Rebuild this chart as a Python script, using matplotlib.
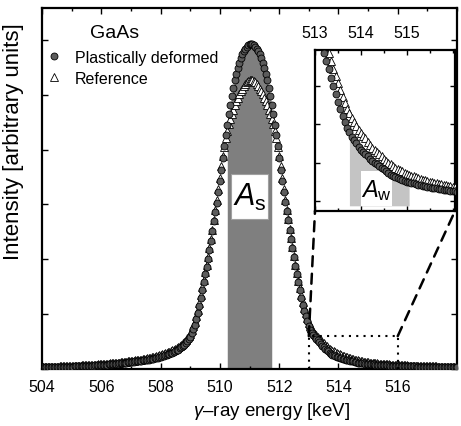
import numpy as np
import matplotlib
matplotlib.use('Agg')
import matplotlib.pyplot as plt
from matplotlib.patches import Rectangle, ConnectionPatch
from matplotlib.ticker import MultipleLocator

plt.rcParams['font.family'] = ['Liberation Sans', 'DejaVu Sans']
plt.rcParams['mathtext.fontset'] = 'custom'
plt.rcParams['mathtext.rm'] = 'Liberation Sans'
plt.rcParams['mathtext.it'] = 'Liberation Sans:italic'

# ---------------- data ----------------
energy = np.round(np.arange(504.0, 518.0001, 0.05), 2)   # keV, channel centres

deformed = [
    0.0050, 0.0050, 0.0050, 0.0050, 0.0051, 0.0051, 0.0052, 0.0052, 0.0053, 0.0053,
    0.0054, 0.0055, 0.0056, 0.0057, 0.0058, 0.0059, 0.0060, 0.0061, 0.0062, 0.0064,
    0.0066, 0.0068, 0.0070, 0.0072, 0.0074, 0.0076, 0.0078, 0.0080, 0.0082, 0.0084,
    0.0086, 0.0088, 0.0090, 0.0092, 0.0094, 0.0096, 0.0098, 0.0100, 0.0102, 0.0104,
    0.0107, 0.0110, 0.0114, 0.0118, 0.0122, 0.0126, 0.0130, 0.0134, 0.0138, 0.0142,
    0.0146, 0.0150, 0.0155, 0.0160, 0.0165, 0.0170, 0.0175, 0.0180, 0.0185, 0.0190,
    0.0195, 0.0200, 0.0205, 0.0210, 0.0215, 0.0220, 0.0226, 0.0232, 0.0238, 0.0244,
    0.0250, 0.0256, 0.0262, 0.0270, 0.0278, 0.0286, 0.0295, 0.0305, 0.0315, 0.0327,
    0.034, 0.035, 0.036, 0.0375, 0.039, 0.0405, 0.042, 0.0435, 0.045, 0.047,
    0.049, 0.0515, 0.054, 0.057, 0.060, 0.0635, 0.067, 0.072, 0.078, 0.084,
    0.090, 0.099, 0.110, 0.123, 0.138, 0.156, 0.175, 0.197, 0.220, 0.241,
    0.262, 0.283, 0.305, 0.330, 0.355, 0.382, 0.410, 0.435, 0.460, 0.490,
    0.520, 0.552, 0.585, 0.617, 0.648, 0.677, 0.705, 0.732, 0.757, 0.779,
    0.800, 0.818, 0.835, 0.849, 0.862, 0.872, 0.880, 0.887, 0.893, 0.897,
    0.899, 0.900, 0.899, 0.897, 0.893, 0.887, 0.880, 0.872, 0.862, 0.849,
    0.835, 0.818, 0.800, 0.779, 0.757, 0.732, 0.705, 0.677, 0.648, 0.617,
    0.585, 0.552, 0.520, 0.490, 0.462, 0.437, 0.412, 0.386, 0.360, 0.335,
    0.310, 0.286, 0.262, 0.240, 0.218, 0.197, 0.178, 0.162, 0.148, 0.134,
    0.120, 0.109, 0.100, 0.094, 0.088, 0.0835, 0.079, 0.074, 0.069, 0.0645,
    0.060, 0.056, 0.052, 0.0485, 0.045, 0.0425, 0.040, 0.038, 0.036, 0.034,
    0.032, 0.031, 0.030, 0.0285, 0.027, 0.026, 0.025, 0.024, 0.023, 0.022,
    0.021, 0.020, 0.019, 0.018, 0.0175, 0.0168, 0.016, 0.0155, 0.015, 0.0145,
    0.0140, 0.0136, 0.0133, 0.0130, 0.0126, 0.0123, 0.0120, 0.0117, 0.0114, 0.0111,
    0.0108, 0.0105, 0.0103, 0.0100, 0.0098, 0.0095, 0.0093, 0.0091, 0.0089, 0.0087,
    0.0085, 0.0083, 0.0082, 0.0080, 0.0079, 0.0077, 0.0076, 0.0075, 0.0074, 0.0073,
    0.0072, 0.0071, 0.0070, 0.0069, 0.0068, 0.0067, 0.0066, 0.0065, 0.0064, 0.0063,
    0.0062, 0.0062, 0.0061, 0.0061, 0.0060, 0.0060, 0.0059, 0.0059, 0.0058, 0.0058,
    0.0057, 0.0057, 0.0056, 0.0056, 0.0055, 0.0055, 0.0054, 0.0054, 0.0053, 0.0053,
    0.0052,
]

reference = [
    0.0058, 0.0059, 0.0060, 0.0061, 0.0062, 0.0063, 0.0064, 0.0065, 0.0066, 0.0067,
    0.0068, 0.0069, 0.0070, 0.0071, 0.0072, 0.0073, 0.0075, 0.0077, 0.0079, 0.0081,
    0.0083, 0.0085, 0.0087, 0.0089, 0.0091, 0.0093, 0.0095, 0.0097, 0.0099, 0.0101,
    0.0103, 0.0106, 0.0109, 0.0112, 0.0115, 0.0118, 0.0121, 0.0124, 0.0127, 0.0130,
    0.0133, 0.0136, 0.0139, 0.0142, 0.0145, 0.0149, 0.0153, 0.0157, 0.0161, 0.0165,
    0.0170, 0.0175, 0.0180, 0.0185, 0.0190, 0.0195, 0.0200, 0.0205, 0.0210, 0.0215,
    0.0220, 0.0225, 0.0230, 0.0236, 0.0242, 0.0248, 0.0255, 0.0262, 0.0270, 0.0278,
    0.0286, 0.0294, 0.0303, 0.0312, 0.0322, 0.0332, 0.0342, 0.0353, 0.0365, 0.0380,
    0.040, 0.041, 0.042, 0.0435, 0.045, 0.0465, 0.048, 0.050, 0.052, 0.054,
    0.056, 0.0585, 0.061, 0.064, 0.067, 0.071, 0.075, 0.080, 0.085, 0.091,
    0.098, 0.107, 0.118, 0.131, 0.146, 0.163, 0.182, 0.204, 0.226, 0.247,
    0.268, 0.289, 0.310, 0.335, 0.360, 0.386, 0.412, 0.440, 0.468, 0.499,
    0.530, 0.561, 0.590, 0.616, 0.640, 0.660, 0.678, 0.692, 0.705, 0.718,
    0.730, 0.741, 0.752, 0.761, 0.770, 0.777, 0.783, 0.789, 0.795, 0.798,
    0.800, 0.801, 0.800, 0.798, 0.795, 0.789, 0.783, 0.777, 0.770, 0.761,
    0.752, 0.741, 0.730, 0.718, 0.705, 0.692, 0.678, 0.660, 0.640, 0.616,
    0.590, 0.561, 0.530, 0.499, 0.468, 0.441, 0.415, 0.388, 0.362, 0.337,
    0.312, 0.289, 0.266, 0.245, 0.224, 0.205, 0.186, 0.170, 0.154, 0.140,
    0.128, 0.118, 0.110, 0.104, 0.098, 0.093, 0.088, 0.0835, 0.079, 0.075,
    0.071, 0.067, 0.063, 0.0595, 0.056, 0.0535, 0.051, 0.0485, 0.046, 0.044,
    0.042, 0.0405, 0.039, 0.037, 0.035, 0.0335, 0.032, 0.031, 0.030, 0.0285,
    0.027, 0.026, 0.025, 0.024, 0.023, 0.022, 0.0215, 0.0207, 0.020, 0.0192,
    0.0185, 0.0180, 0.0175, 0.0170, 0.0165, 0.0160, 0.0155, 0.0151, 0.0147, 0.0143,
    0.0140, 0.0136, 0.0133, 0.0130, 0.0127, 0.0124, 0.0121, 0.0118, 0.0115, 0.0112,
    0.0110, 0.0107, 0.0105, 0.0103, 0.0101, 0.0099, 0.0097, 0.0095, 0.0093, 0.0091,
    0.0090, 0.0088, 0.0087, 0.0085, 0.0084, 0.0082, 0.0081, 0.0079, 0.0078, 0.0077,
    0.0076, 0.0075, 0.0074, 0.0073, 0.0072, 0.0071, 0.0070, 0.0069, 0.0068, 0.0067,
    0.0066, 0.0066, 0.0065, 0.0065, 0.0064, 0.0064, 0.0063, 0.0063, 0.0062, 0.0062,
    0.0061,
]

s_window = (510.25, 511.75)      # keV, S-parameter area
w_window = (513.75, 515.05)      # keV, W-parameter area
zoom_x = (513.0, 516.0)          # region shown in inset
zoom_ytop = 0.091
main_xticks = [504, 506, 508, 510, 512, 514, 516]
inset_xticks = [513, 514, 515]

E = np.asarray(energy)
D = np.asarray(deformed)
R = np.asarray(reference)

# ---------------- figure ----------------
fig = plt.figure(figsize=(4.61, 4.27), dpi=100)
ax = fig.add_axes([42/461, 1-370/427, 415/461, 361/427])

circ_kw = dict(ls='none', marker='o', ms=5.0, mfc='#5c5c5c', mec='black', mew=0.6)
tri_kw = dict(ls='none', marker='^', ms=5.2, mfc='white', mec='black', mew=0.6)

# S area
sm = (E >= s_window[0] - 1e-6) & (E <= s_window[1] + 1e-6)
ax.fill_between(E[sm], 0, D[sm], color='#7f7f7f', lw=0, zorder=1)
ax.add_patch(Rectangle((510.39, 0.415), 1.25, 0.125, facecolor='white',
                       edgecolor='#a0a0a0', lw=0.8, zorder=1.5))
ax.text(511.0, 0.478, r'$A_{\mathrm{s}}$', fontsize=22, ha='center', va='center', zorder=2)

ax.plot(E, R, label='Reference', zorder=3, **tri_kw)
ax.plot(E, D, label='Plastically deformed', zorder=4, **circ_kw)

ax.set_xlim(504, 518)
ax.set_ylim(0, 1.0)
ax.set_xticks(main_xticks)
ax.xaxis.set_minor_locator(MultipleLocator(1))
ax.set_yticks(np.arange(0, 1.0, 0.152))
ax.set_yticklabels([])
ax.tick_params(which='both', direction='in', top=True, right=True, labelsize=11.5, pad=7)
ax.tick_params(which='major', length=4, width=1)
ax.tick_params(which='minor', length=2.5, width=1)
for s in ax.spines.values():
    s.set_linewidth(1.6)

ax.set_xlabel(r'$\gamma$–ray energy [keV]', fontsize=13.5)
ax.xaxis.set_label_coords(0.554, -0.085)
ax.set_ylabel('Intensity [arbitrary units]', fontsize=16)
ax.yaxis.set_label_coords(-0.043, 0.634)

ax.text(0.116, 0.9335, 'GaAs', transform=ax.transAxes, fontsize=14, ha='left', va='center')
h, l = ax.get_legend_handles_labels()
ax.legend(h[::-1], l[::-1], loc='upper left', bbox_to_anchor=(0.014, 0.885), frameon=False,
          fontsize=11.5, handlelength=0.8, handletextpad=0.9, borderpad=0,
          labelspacing=0.4, numpoints=1, borderaxespad=0)

# zoom region marker
ax.plot([zoom_x[0], zoom_x[0], zoom_x[1], zoom_x[1]], [0, zoom_ytop, zoom_ytop, 0],
        ls=(0, (1, 2.5)), color='black', lw=1.5, zorder=5)

# ---------------- inset ----------------
ins = fig.add_axes([315/461, 1-212/427, 140/461, 161/427])
wm = (E >= w_window[0] - 1e-6) & (E <= w_window[1] + 1e-6)
ins.fill_between(E[wm], 0, D[wm], color='#c4c4c4', lw=0, zorder=1)
ins.add_patch(Rectangle((514.0, 0.0), 0.67, 0.020, facecolor='white',
                        edgecolor='none', zorder=1.5))
ins.text(514.33, 0.0095, r'$A_{\mathrm{w}}$', fontsize=17, ha='center', va='center', zorder=2)
ins.plot(E, R, zorder=3, **tri_kw)
ins.plot(E, D, zorder=4, **circ_kw)
ins.set_xlim(zoom_x[0], zoom_x[1] + 0.05)
ins.set_ylim(-0.003, 0.090)
ins.set_xticks(inset_xticks)
ins.xaxis.set_minor_locator(MultipleLocator(0.5))
ins.set_yticks([0.003, 0.025, 0.047, 0.069])
ins.set_yticklabels([])
ins.tick_params(which='both', direction='in', top=True, right=True, bottom=True,
                labeltop=True, labelbottom=False, labelsize=11.5, pad=7)
ins.tick_params(which='major', length=3.5, width=1)
ins.tick_params(which='minor', length=2.5, width=1)
for s in ins.spines.values():
    s.set_linewidth(1.6)

for xa, xb in [((zoom_x[0], zoom_ytop), (0, 0)), ((zoom_x[1], zoom_ytop), (1, 0))]:
    cp = ConnectionPatch(xyA=xa, coordsA=ax.transData, xyB=xb, coordsB=ins.transAxes,
                         ls=(0, (4, 3)), color='black', lw=1.8)
    fig.add_artist(cp)

fig.savefig('out.png', dpi=100)
